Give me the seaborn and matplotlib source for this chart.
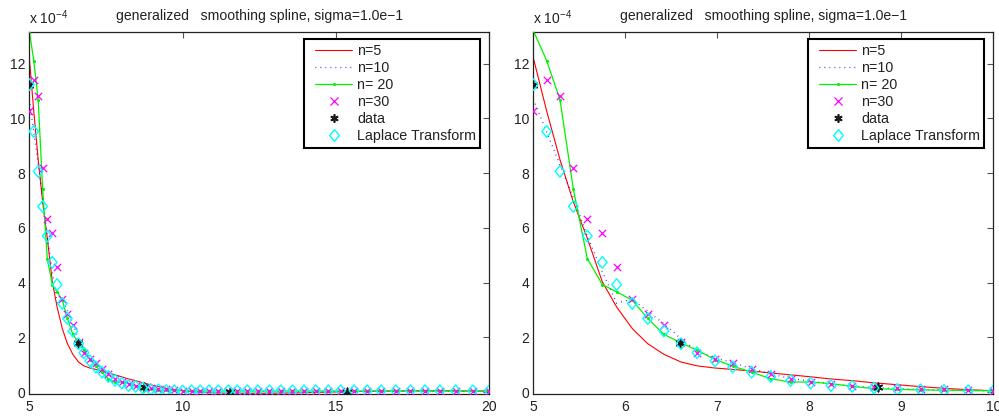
import numpy as np
import pandas as pd
import seaborn as sns
import matplotlib
matplotlib.use("Agg")
import matplotlib.pyplot as plt
from matplotlib.lines import Line2D
from matplotlib.path import Path
from matplotlib.legend_handler import HandlerLine2D

sns.set_style("white")
plt.rcParams['font.family'] = ['Liberation Sans', 'DejaVu Sans']
plt.rcParams['mathtext.fontset'] = 'custom'
plt.rcParams['mathtext.rm'] = 'Liberation Sans'
plt.rcParams['mathtext.it'] = 'Liberation Sans:italic'

# ---- data (y in units of 1e-4) ----
x_grid = [5.000, 5.145, 5.290, 5.435, 5.587, 5.750, 5.906, 6.076, 6.243, 6.420,
          6.605, 6.780, 6.975, 7.167, 7.373, 7.580, 7.797, 8.014, 8.235, 8.467,
          8.703, 8.957, 9.210, 9.464, 9.728, 10.000,
          10.29, 10.57, 10.86, 11.16, 11.49, 11.78, 12.11, 12.45, 12.83, 13.20,
          13.58, 13.96, 14.34, 14.75, 15.15, 15.59, 16.02, 16.47, 16.95, 17.43,
          17.90, 18.39, 18.90, 19.46, 20.00]

n5 = [12.21, 10.27, 8.49, 6.95, 5.62, 4.03, 3.11, 2.32, 1.77, 1.38,
      1.10, 0.96, 0.88, 0.83, 0.77, 0.70, 0.63, 0.56, 0.48, 0.42,
      0.34, 0.27, 0.20, 0.14, 0.09, 0.05,
      0.02, 0.00, -0.02, -0.03, -0.04, -0.04, -0.04, -0.04, -0.04, -0.03,
      -0.03, -0.02, -0.01, 0.00, 0.01, 0.02, 0.03, 0.04, 0.04, 0.05,
      0.05, 0.05, 0.05, 0.04, 0.04]

n10 = [10.70, 9.50, 8.30, 7.10, 5.70, 4.40, 3.25, 3.40, 2.95, 2.50,
       1.95, 1.50, 1.25, 1.08, 0.85, 0.66, 0.50, 0.40, 0.30, 0.22,
       0.17, 0.13, 0.10, 0.08, 0.06, 0.04,
       0.03, 0.03, 0.03, 0.03, 0.03, 0.03, 0.03, 0.03, 0.03, 0.03,
       0.03, 0.03, 0.03, 0.03, 0.03, 0.03, 0.03, 0.03, 0.03, 0.03,
       0.03, 0.03, 0.03, 0.03, 0.03]

n20 = [13.20, 12.11, 10.68, 7.42, 4.88, 3.93, 3.66, 3.36, 2.69, 2.11,
       1.80, 1.53, 1.19, 0.95, 0.73, 0.49, 0.37, 0.37, 0.31, 0.21,
       0.13, 0.10, 0.08, 0.07, 0.06, 0.05,
       0.04, 0.04, 0.04, 0.04, 0.04, 0.04, 0.04, 0.04, 0.04, 0.04,
       0.04, 0.04, 0.04, 0.04, 0.04, 0.04, 0.04, 0.04, 0.04, 0.04,
       0.04, 0.04, 0.04, 0.04, 0.04]

n30 = [10.28, 11.39, 10.80, 8.18, 6.32, 5.82, 4.58, 3.39, 2.87, 2.44,
       1.83, 1.44, 1.20, 1.07, 0.83, 0.67, 0.49, 0.37, 0.28, 0.22,
       0.18, 0.15, 0.12, 0.10, 0.08, 0.04,
       0.04, 0.04, 0.04, 0.04, 0.04, 0.04, 0.04, 0.04, 0.04, 0.04,
       0.04, 0.04, 0.04, 0.04, 0.04, 0.04, 0.04, 0.04, 0.04, 0.04,
       0.04, 0.04, 0.04, 0.04, 0.04]

laplace = [11.23, 9.52, 8.06, 6.78, 5.70, 4.74, 3.93, 3.24, 2.69, 2.23,
           1.77, 1.44, 1.14, 0.92, 0.73, 0.57, 0.43, 0.33, 0.24, 0.21,
           0.15, 0.10, 0.085, 0.06, 0.05, 0.04,
           0.05, 0.05, 0.05, 0.05, 0.05, 0.05, 0.05, 0.05, 0.05, 0.05,
           0.05, 0.05, 0.05, 0.05, 0.05, 0.05, 0.05, 0.05, 0.05, 0.05,
           0.05, 0.05, 0.05, 0.05, 0.05]

data_x = [5.00, 6.60, 8.75, 11.55, 15.35]
data_y = [11.23, 1.80, 0.18, 0.02, 0.02]

title = "generalized   smoothing spline, sigma=1.0e\u22121"
labels = ["n=5", "n=10", "n= 20", "n=30", "data", "Laplace Transform"]

RED = (1, 0, 0)
BLUE = (0, 0, 1)
GREEN = (0, 0.95, 0)
MAGENTA = (1, 0, 1)
CYAN = (0, 1, 1)
BLACK = '#1a1a1a'

diamond = Path([(0, 1), (0.83, 0), (0, -1), (-0.83, 0), (0, 1)],
               [Path.MOVETO, Path.LINETO, Path.LINETO, Path.LINETO, Path.CLOSEPOLY])
asterisk = (6, 2, 0)

fig = plt.figure(figsize=(9.99, 4.18), dpi=100)
axL = fig.add_axes([29.3 / 999, 24.5 / 418, 460 / 999, 362 / 418])
axR = fig.add_axes([533.3 / 999, 24.5 / 418, 460 / 999, 362 / 418])


class ShiftHandler(HandlerLine2D):
    def __init__(self, shift, **kw):
        super().__init__(**kw)
        self.shift = shift

    def create_artists(self, legend, orig_handle, xdescent, ydescent, width,
                       height, fontsize, trans):
        return super().create_artists(legend, orig_handle, xdescent - self.shift,
                                      ydescent, width - self.shift, height,
                                      fontsize, trans)


fs = 10.0
tfs = 10.1
lfs = 10.3
for ax, xlim, xticks in [(axL, (5, 20), [5, 10, 15, 20]),
                         (axR, (5, 10), [5, 6, 7, 8, 9, 10])]:
    d_grid = pd.DataFrame({"x": x_grid, "n5": n5, "n10": n10, "n20": n20,
                           "n30": n30, "lt": laplace})
    d_data = pd.DataFrame({"x": data_x, "y": data_y})
    sns.lineplot(data=d_grid, x="x", y="n5", ax=ax, estimator=None, sort=False,
                 color=RED, lw=0.8)
    sns.lineplot(data=d_grid, x="x", y="n10", ax=ax, estimator=None, sort=False,
                 color=BLUE, lw=0.9, ls=(0, (0.6, 3.4)))
    sns.lineplot(data=d_grid, x="x", y="n20", ax=ax, estimator=None, sort=False,
                 color=GREEN, lw=0.9)
    sns.scatterplot(data=d_grid, x="x", y="n20", ax=ax, marker='o', s=5,
                    color=GREEN, linewidth=0, zorder=3)
    sns.scatterplot(data=d_grid, x="x", y="n30", ax=ax, marker='x', s=28,
                    color=MAGENTA, linewidth=0.9, zorder=4)
    sns.scatterplot(data=d_data, x="x", y="y", ax=ax, marker=asterisk, s=36,
                    color=BLACK, linewidth=1.2, zorder=5)
    sns.scatterplot(data=d_grid, x="x", y="lt", ax=ax, marker=diamond, s=70,
                    facecolor='none', edgecolor=CYAN, linewidth=1.0, zorder=6)
    ax.set_xlim(*xlim)
    ax.set_ylim(-0.05, 13.17)
    ax.set_xticks(xticks)
    ax.set_yticks([0, 2, 4, 6, 8, 10, 12])
    ax.set_xlabel("")
    ax.set_ylabel("")
    ax.tick_params(direction='in', length=4, width=0.8, top=True, right=True,
                   labelsize=fs, colors='#555555', labelcolor='#222222', pad=3)
    ax.tick_params(axis='x', pad=4.5)
    for sp in ax.spines.values():
        sp.set_visible(True)
        sp.set_color('#222222')
        sp.set_linewidth(0.9)
    ax.set_title(title, fontsize=tfs, color='#222222', pad=8)
    ax.text(0.0, 1.012, r'x 10$^{-4}$', transform=ax.transAxes, fontsize=fs,
            color='#222222', ha='left', va='bottom')

    handles = [
        Line2D([], [], color=RED, lw=0.8),
        Line2D([], [], color=BLUE, lw=0.9, ls=(0, (0.6, 3.4))),
        Line2D([], [], color=GREEN, lw=0.9, marker='o', ms=2.2, mew=0),
        Line2D([], [], color=MAGENTA, ls='none', marker='x', ms=5.3, mew=0.9),
        Line2D([], [], color=BLACK, ls='none', marker=asterisk, ms=6, mew=1.2),
        Line2D([], [], color=CYAN, ls='none', marker=diamond, ms=8.4, mew=1.0,
               mfc='none'),
    ]
    hmap = {h: ShiftHandler(5.0, numpoints=1) for h in handles}
    leg = ax.legend(handles, labels, loc='upper right',
                    bbox_to_anchor=(1 - 9.0 / 460, 1 - 7.8 / 362),
                    fontsize=lfs, frameon=True, fancybox=False, framealpha=1,
                    edgecolor='black', handlelength=3.05, handletextpad=0.34,
                    labelspacing=0.22, borderpad=0.3, borderaxespad=0,
                    handler_map=hmap)
    leg.get_frame().set_linewidth(1.5)
    for t in leg.get_texts():
        t.set_color('#222222')

fig.savefig("out.png", dpi=100)
